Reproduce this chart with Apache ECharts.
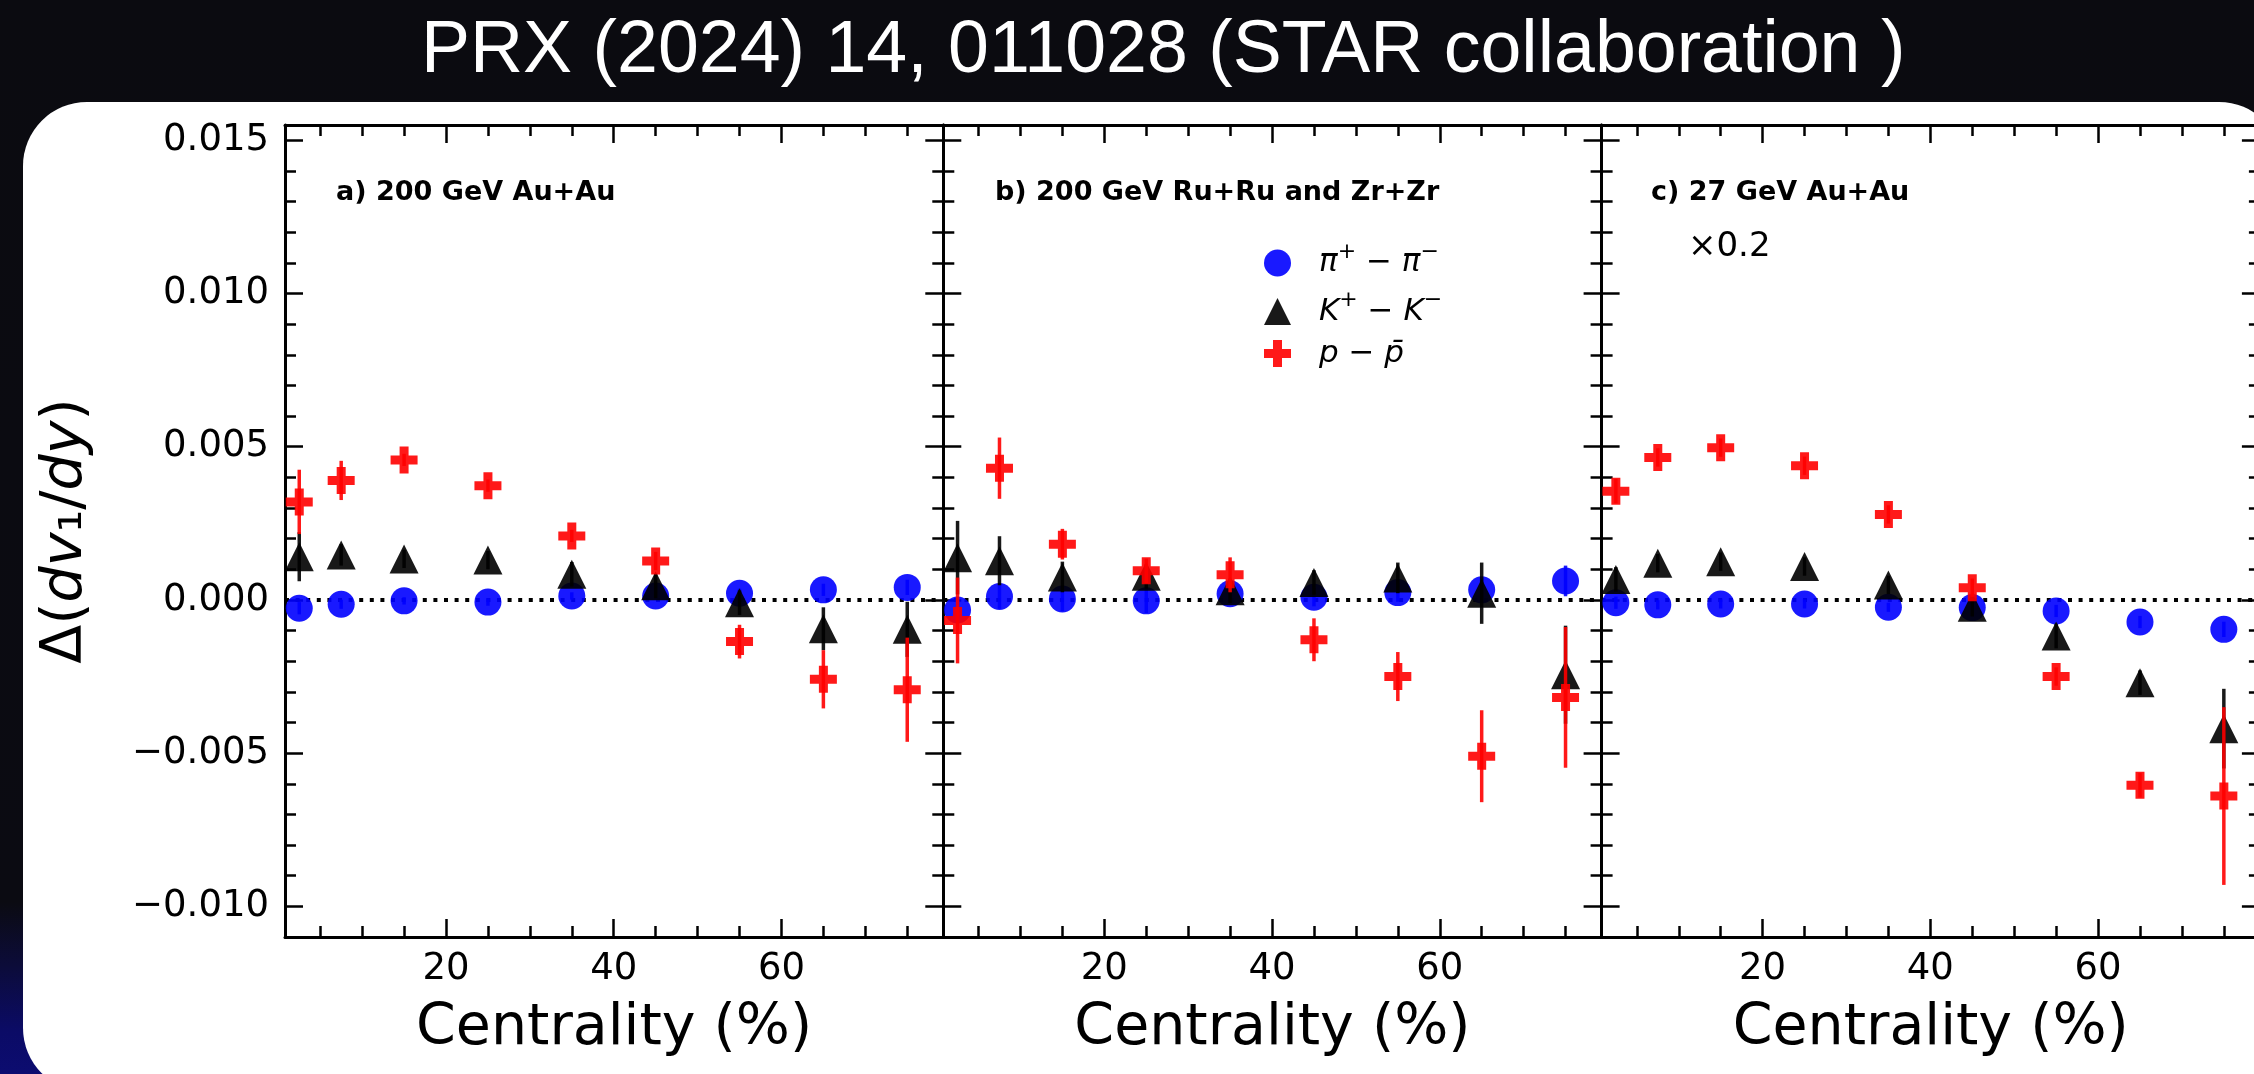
<!DOCTYPE html>
<html>
<head>
<meta charset="utf-8">
<script src="https://cdn.jsdelivr.net/npm/echarts@6/dist/echarts.min.js"></script>
<style>
  html, body { margin: 0; padding: 0; width: 2254px; height: 1074px; overflow: hidden; }
  body { background: linear-gradient(180deg, #0b0b10 0%, #0b0b12 84%, #0c0c3a 90%, #0b0b66 96%, #0c0c70 100%); position: relative; }
  #card { position: absolute; left: 23px; top: 102px; width: 2260px; height: 990px; background: #ffffff; border-radius: 64px; }
  #chart { position: absolute; left: 0; top: 0; width: 2254px; height: 1074px; }
</style>
</head>
<body>
<div id="card"></div>
<div id="chart"></div>
<script>
// Centrality bin centres (%)
const centrality = [2.5, 7.5, 15, 25, 35, 45, 55, 65, 75];

// a) 200 GeV Au+Au
const piA    = [-0.00027, -0.00014, -0.00003, -0.00007, 0.00013, 0.00013, 0.00022, 0.00033, 0.00041];
const piAErr = [0.0002, 0.00015, 0.00012, 0.00012, 0.00012, 0.00012, 0.00015, 0.0002, 0.00025];
const kA     = [0.00141, 0.00147, 0.00134, 0.0013, 0.00084, 0.00046, -0.00009, -0.00094, -0.00096];
const kAErr  = [0.0008, 0.00035, 0.0003, 0.0003, 0.0004, 0.0004, 0.0004, 0.0007, 0.0009];
const pA     = [0.0032, 0.0039, 0.00457, 0.00373, 0.00209, 0.00127, -0.00136, -0.00259, -0.00293];
const pAErr  = [0.00105, 0.00064, 0.0002, 0.0002, 0.0002, 0.0003, 0.00055, 0.00095, 0.0017];

// b) 200 GeV Ru+Ru and Zr+Zr
const piB    = [-0.00033, 0.00011, 0.00003, -0.00003, 0.0002, 0.00009, 0.00024, 0.00033, 0.00062];
const piBErr = [0.0003, 0.0004, 0.0004, 0.0004, 0.0003, 0.0003, 0.0003, 0.0004, 0.0005];
const kB     = [0.00138, 0.00128, 0.00075, 0.00077, 0.0003, 0.00057, 0.00072, 0.00022, -0.00244];
const kBErr  = [0.0012, 0.0008, 0.0005, 0.0004, 0.0004, 0.0004, 0.0005, 0.001, 0.0016];
const pB     = [-0.00067, 0.0043, 0.00182, 0.00095, 0.00082, -0.0013, -0.0025, -0.0051, -0.00318];
const pBErr  = [0.0014, 0.001, 0.0005, 0.0004, 0.00057, 0.0007, 0.0008, 0.0015, 0.0023];

// c) 27 GeV Au+Au (scaled by 0.2)
const piC    = [-0.00009, -0.00016, -0.00013, -0.00013, -0.00024, -0.00025, -0.00036, -0.00072, -0.00096];
const piCErr = [0.0002, 0.00015, 0.00015, 0.00015, 0.00015, 0.00015, 0.0002, 0.0002, 0.00025];
const kC     = [0.00067, 0.0012, 0.00125, 0.00109, 0.00049, -0.00024, -0.00118, -0.0027, -0.0042];
const kCErr  = [0.0004, 0.0003, 0.0003, 0.0003, 0.0003, 0.0003, 0.0004, 0.0004, 0.0013];
const pC     = [0.00355, 0.00465, 0.00497, 0.00438, 0.00279, 0.0004, -0.0025, -0.00605, -0.0064];
const pCErr  = [0.0004, 0.0003, 0.0003, 0.0003, 0.0003, 0.0003, 0.0003, 0.0004, 0.0029];

// Axis ticks
const xMajorTicks = [20, 40, 60];
const xMinorTicks = [5, 10, 15, 25, 30, 35, 45, 50, 55, 65, 70, 75];
const yMajorTicks = [-0.010, -0.005, 0, 0.005, 0.010, 0.015];
const yMinorTicks = [-0.009, -0.008, -0.007, -0.006, -0.004, -0.003, -0.002, -0.001,
                     0.001, 0.002, 0.003, 0.004, 0.006, 0.007, 0.008, 0.009,
                     0.011, 0.012, 0.013, 0.014];

const panelTitles = ['a) 200 GeV Au+Au', 'b) 200 GeV Ru+Ru and Zr+Zr', 'c) 27 GeV Au+Au'];
const headerText = 'PRX (2024) 14, 011028 (STAR collaboration )';

const panels = [
  { pi: piA, piErr: piAErr, k: kA, kErr: kAErr, p: pA, pErr: pAErr },
  { pi: piB, piErr: piBErr, k: kB, kErr: kBErr, p: pB, pErr: pBErr },
  { pi: piC, piErr: piCErr, k: kC, kErr: kCErr, p: pC, pErr: pCErr }
];

const X_MIN = 0.8, X_MAX = 79.3, Y_MIN = -0.011, Y_MAX = 0.0155;
const GRID_TOP = 125, GRID_H = 812, GRID_W = 658.3;
const gridLefts = [285, 943.3, 1601.6];

const FONT = 'DejaVu Sans';
const BLUE = 'rgba(0,0,255,0.9)', BLACK = 'rgba(0,0,0,0.9)', RED = 'rgba(255,0,0,0.9)';
const PLUS = 'path://M-1,-3L1,-3L1,-1L3,-1L3,1L1,1L1,3L-1,3L-1,1L-3,1L-3,-1L-1,-1Z';

const MAJOR_LEN = 18, MINOR_LEN = 11, TICK_W = 2.5, FRAME_W = 3;

const grids = [], xAxes = [], yAxes = [], series = [];

function fmtY(v) {
  const s = Math.abs(v) < 1e-12 ? '0.000' : v.toFixed(3);
  return s.replace('-', '\u2212');
}

panels.forEach((pd, g) => {
  grids.push({ left: gridLefts[g], top: GRID_TOP, width: GRID_W, height: GRID_H, outerBoundsMode: 'none' });

  const xBase = { type: 'value', gridIndex: g, min: X_MIN, max: X_MAX, splitLine: { show: false } };
  // bottom major (with labels and name)
  xAxes.push(Object.assign({}, xBase, {
    position: 'bottom',
    axisLine: { show: true, onZero: false, lineStyle: { color: '#000', width: FRAME_W } },
    axisTick: { show: true, inside: true, length: MAJOR_LEN, customValues: xMajorTicks, lineStyle: { color: '#000', width: TICK_W } },
    axisLabel: { show: true, customValues: xMajorTicks, margin: 14, fontFamily: FONT, fontSize: 37, color: '#000' },
    name: 'Centrality (%)', nameLocation: 'middle', nameGap: 64,
    nameTextStyle: { fontFamily: FONT, fontSize: 57, color: '#000' }
  }));
  // top major
  xAxes.push(Object.assign({}, xBase, {
    position: 'top',
    axisLine: { show: true, onZero: false, lineStyle: { color: '#000', width: FRAME_W } },
    axisTick: { show: true, inside: true, length: MAJOR_LEN, customValues: xMajorTicks, lineStyle: { color: '#000', width: TICK_W } },
    axisLabel: { show: false }
  }));
  // bottom minor
  xAxes.push(Object.assign({}, xBase, {
    position: 'bottom',
    axisLine: { show: false, onZero: false },
    axisTick: { show: true, inside: true, length: MINOR_LEN, customValues: xMinorTicks, lineStyle: { color: '#000', width: TICK_W } },
    axisLabel: { show: false }
  }));
  // top minor
  xAxes.push(Object.assign({}, xBase, {
    position: 'top',
    axisLine: { show: false, onZero: false },
    axisTick: { show: true, inside: true, length: MINOR_LEN, customValues: xMinorTicks, lineStyle: { color: '#000', width: TICK_W } },
    axisLabel: { show: false }
  }));

  const yBase = { type: 'value', gridIndex: g, min: Y_MIN, max: Y_MAX, splitLine: { show: false } };
  const leftMajor = Object.assign({}, yBase, {
    position: 'left',
    axisLine: { show: true, onZero: false, lineStyle: { color: '#000', width: FRAME_W } },
    axisTick: { show: true, inside: true, length: MAJOR_LEN, customValues: yMajorTicks, lineStyle: { color: '#000', width: TICK_W } },
    axisLabel: { show: g === 0, customValues: yMajorTicks, margin: 16, fontFamily: FONT, fontSize: 37, color: '#000', formatter: fmtY }
  });
  if (g === 0) {
    Object.assign(leftMajor, {
      name: '{n|\u0394(}{i|dv}{n|\u2081/}{i|dy}{n|)}',
      nameLocation: 'middle', nameGap: 186, nameRotate: 90,
      nameTextStyle: {
        rich: {
          n: { fontFamily: FONT, fontSize: 57, color: '#000', lineHeight: 66 },
          i: { fontFamily: FONT, fontSize: 57, fontStyle: 'italic', color: '#000', lineHeight: 66 }
        }
      }
    });
  }
  yAxes.push(leftMajor);
  yAxes.push(Object.assign({}, yBase, {
    position: 'right',
    axisLine: { show: true, onZero: false, lineStyle: { color: '#000', width: FRAME_W } },
    axisTick: { show: true, inside: true, length: MAJOR_LEN, customValues: yMajorTicks, lineStyle: { color: '#000', width: TICK_W } },
    axisLabel: { show: false }
  }));
  yAxes.push(Object.assign({}, yBase, {
    position: 'left',
    axisLine: { show: false, onZero: false },
    axisTick: { show: true, inside: true, length: MINOR_LEN, customValues: yMinorTicks, lineStyle: { color: '#000', width: TICK_W } },
    axisLabel: { show: false }
  }));
  yAxes.push(Object.assign({}, yBase, {
    position: 'right',
    axisLine: { show: false, onZero: false },
    axisTick: { show: true, inside: true, length: MINOR_LEN, customValues: yMinorTicks, lineStyle: { color: '#000', width: TICK_W } },
    axisLabel: { show: false }
  }));

  const xi = g * 4, yi = g * 4;

  function errorSeries(name, vals, errs, color, z) {
    return {
      name: name, type: 'custom', xAxisIndex: xi, yAxisIndex: yi, z: z, silent: true,
      data: centrality.map((c, i) => [c, vals[i], errs[i]]),
      encode: { x: 0, y: 1 },
      renderItem: (params, api) => {
        const x = api.value(0), y = api.value(1), e = api.value(2);
        const a = api.coord([x, y + e]), b = api.coord([x, y - e]);
        return { type: 'line', shape: { x1: a[0], y1: a[1], x2: b[0], y2: b[1] },
                 style: { stroke: color, lineWidth: 3.5 } };
      }
    };
  }
  function markerSeries(name, vals, symbol, size, color, z, extra) {
    return Object.assign({
      name: name, type: 'scatter', xAxisIndex: xi, yAxisIndex: yi, z: z, silent: true,
      symbol: symbol, symbolSize: size,
      itemStyle: { color: color, opacity: 1 },
      data: centrality.map((c, i) => [c, vals[i]])
    }, extra || {});
  }

  series.push(markerSeries('pi', pd.pi, 'circle', 27, BLUE, 2, {
    markLine: {
      silent: true, symbol: 'none', z: 1, animation: false,
      label: { show: false },
      lineStyle: { color: '#000', width: 4, type: [4, 6.6], cap: 'butt' },
      data: [{ yAxis: 0 }]
    }
  }));
  series.push(errorSeries('pi-err', pd.pi, pd.piErr, BLUE, 3));
  series.push(markerSeries('k', pd.k, 'triangle', 29, BLACK, 4));
  series.push(errorSeries('k-err', pd.k, pd.kErr, BLACK, 5));
  series.push(markerSeries('p', pd.p, PLUS, 27, RED, 6));
  series.push(errorSeries('p-err', pd.p, pd.pErr, RED, 7));
});

const legendLabels = {
  pi: '{a|\u03c0}{s|+}{n| \u2212 }{i|\u03c0}{s|\u2212}',
  k:  '{a|K}{s|+}{n| \u2212 }{i|K}{s|\u2212}',
  p:  '{a|p}{n| \u2212 }{i|p\u0304}'
};

const LEG_LH = 44;

const option = {
  animation: false,
  backgroundColor: 'transparent',
  title: [
    { text: headerText, left: 421, top: 15, padding: 0,
      textStyle: { color: '#ffffff', fontFamily: 'Liberation Sans', fontSize: 73.5, fontWeight: 'normal' } },
    { text: panelTitles[0], left: 336, top: 179, padding: 0,
      textStyle: { fontFamily: FONT, fontWeight: 'bold', fontSize: 27, color: '#000' } },
    { text: panelTitles[1], left: 995, top: 179, padding: 0,
      textStyle: { fontFamily: FONT, fontWeight: 'bold', fontSize: 27, color: '#000' } },
    { text: panelTitles[2], left: 1651, top: 179, padding: 0,
      textStyle: { fontFamily: FONT, fontWeight: 'bold', fontSize: 27, color: '#000' } },
    { text: '\u00d70.2', left: 1688, top: 230, padding: 0,
      textStyle: { fontFamily: FONT, fontWeight: 'normal', fontSize: 34, color: '#000' } }
  ],
  legend: {
    orient: 'vertical', left: 1264, top: 241, padding: 0,
    itemWidth: 27, itemHeight: 27, itemGap: 11,
    selectedMode: false,
    data: [
      { name: 'pi', icon: 'circle' },
      { name: 'k', icon: 'triangle' },
      { name: 'p', icon: PLUS }
    ],
    formatter: name => legendLabels[name],
    textStyle: {
      rich: {
        a: { fontFamily: FONT, fontSize: 31, fontStyle: 'italic', color: '#000', lineHeight: LEG_LH, padding: [0, 0, 0, 23] },
        i: { fontFamily: FONT, fontSize: 31, fontStyle: 'italic', color: '#000', lineHeight: LEG_LH },
        n: { fontFamily: FONT, fontSize: 31, color: '#000', lineHeight: LEG_LH },
        s: { fontFamily: FONT, fontSize: 22, color: '#000', lineHeight: 20, verticalAlign: 'top' }
      }
    }
  },
  grid: grids,
  xAxis: xAxes,
  yAxis: yAxes,
  series: series
};

const chart = echarts.init(document.getElementById('chart'), null, { renderer: 'canvas', width: 2254, height: 1074 });
chart.setOption(option);
</script>
</body>
</html>
